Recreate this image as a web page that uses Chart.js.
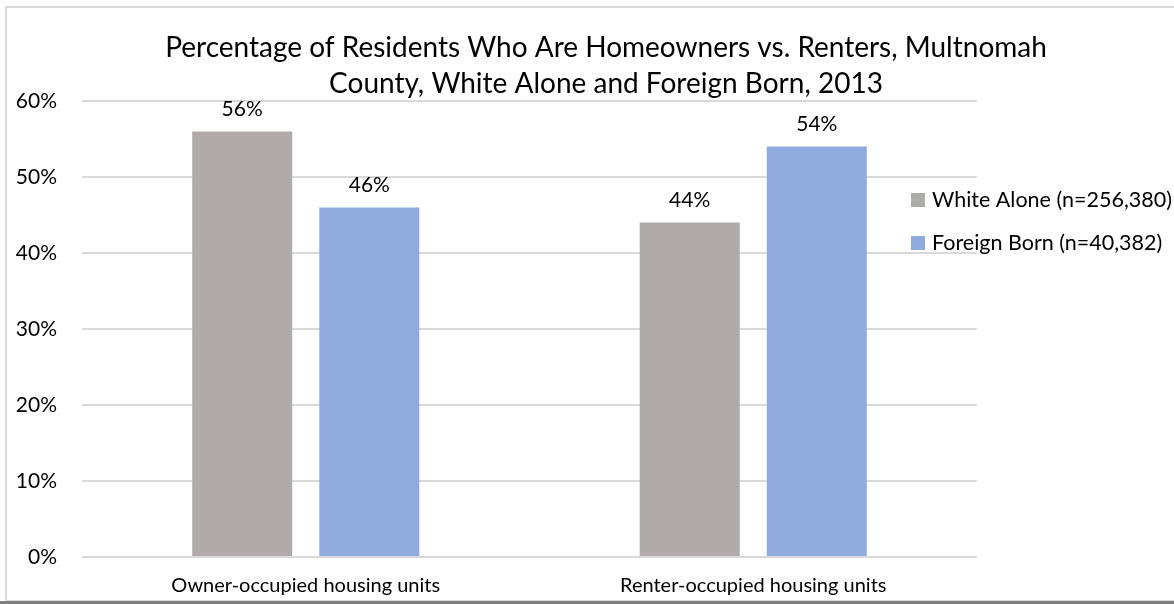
<!DOCTYPE html>
<html>
<head>
<meta charset="utf-8">
<script src="https://cdn.jsdelivr.net/npm/chart.js@4.4.0/dist/chart.umd.min.js"></script>
<style>
    html, body { margin: 0; padding: 0; background: #fff; }
    #wrap { position: relative; width: 1174px; height: 604px; overflow: hidden; }
    #frame { position: absolute; left: 5px; top: 6px; right: -10px; bottom: 3px;
             border-left: 2px solid #D9D9D9; border-top: 2px solid #D9D9D9; border-bottom: 1px solid #D9D9D9; }
    #shadow { position: absolute; left: 0; right: 0; bottom: 0; height: 3px; background: #7F7F7F; }
    canvas { position: absolute; left: 0; top: 0; }
</style>
</head>
<body>
<div id="wrap">
    <div id="frame"></div>
    <div id="shadow"></div>
    <canvas id="chart" width="1174" height="604"></canvas>
</div>
<script>
// ========== DATA ==========
const categories = ['Owner-occupied housing units', 'Renter-occupied housing units'];
const whiteAlone = [56, 44];
const foreignBorn = [46, 54];
const seriesNames = ['White Alone (n=256,380)', 'Foreign Born (n=40,382)'];
const titleLines = ['Percentage of Residents Who Are Homeowners vs. Renters, Multnomah',
                    'County, White Alone and Foreign Born, 2013'];
const yTicks = [0, 10, 20, 30, 40, 50, 60];

const FONT = 'Lato, "Open Sans", sans-serif';

// ========== PLUGINS ==========
const titlePlugin = {
    id: 'titleText',
    afterDraw(chart) {
        const ctx = chart.ctx;
        ctx.save();
        ctx.fillStyle = '#000';
        ctx.font = '28px ' + FONT;
        ctx.textAlign = 'center';
        ctx.textBaseline = 'middle';
        ctx.fillText(titleLines[0], 606, 48);
        ctx.fillText(titleLines[1], 606, 84);
        ctx.restore();
    }
};

const valueLabels = {
    id: 'valueLabels',
    afterDatasetsDraw(chart) {
        const ctx = chart.ctx;
        ctx.save();
        ctx.fillStyle = '#000';
        ctx.font = '21px ' + FONT;
        ctx.textAlign = 'center';
        ctx.textBaseline = 'middle';
        chart.data.datasets.forEach((ds, i) => {
            chart.getDatasetMeta(i).data.forEach((bar, j) => {
                ctx.fillText(ds.data[j] + '%', bar.x, bar.y - 22);
            });
        });
        ctx.restore();
    }
};

const sideLegend = {
    id: 'sideLegend',
    afterDraw(chart) {
        const ctx = chart.ctx;
        ctx.save();
        ctx.font = '21.5px ' + FONT;
        ctx.textBaseline = 'middle';
        chart.data.datasets.forEach((ds, i) => {
            const y = 200 + i * 43;
            ctx.fillStyle = ds.backgroundColor;
            ctx.fillRect(911, y - 7, 14, 14);
            ctx.fillStyle = '#000';
            ctx.fillText(ds.label, 932, y);
        });
        ctx.restore();
    }
};

// ========== CHART ==========
new Chart(document.getElementById('chart'), {
    type: 'bar',
    data: {
        labels: categories,
        datasets: [
            { label: seriesNames[0], data: whiteAlone, backgroundColor: '#AFABAA',
              categoryPercentage: 0.568, barPercentage: 0.787 },
            { label: seriesNames[1], data: foreignBorn, backgroundColor: '#8FAADC',
              categoryPercentage: 0.568, barPercentage: 0.787 }
        ]
    },
    options: {
        responsive: false,
        animation: false,
        layout: { padding: { left: 0, right: 197, top: 101, bottom: 0 } },
        plugins: { legend: { display: false }, title: { display: false }, tooltip: { enabled: false } },
        scales: {
            x: {
                grid: { display: false, drawTicks: false },
                border: { display: false },
                ticks: { color: '#000', font: { family: FONT, size: 20 }, padding: 17, maxRotation: 0 },
                afterFit: s => { s.height = 47; }
            },
            y: {
                min: 0, max: 60,
                afterBuildTicks: s => { s.ticks = yTicks.map(v => ({ value: v })); },
                grid: { color: '#D9D9D9', lineWidth: 2, drawTicks: false },
                border: { display: false },
                ticks: { color: '#000', font: { family: FONT, size: 21 }, padding: 25,
                         callback: v => v + '%' },
                afterFit: s => { s.width = 82; }
            }
        }
    },
    plugins: [titlePlugin, valueLabels, sideLegend]
});
</script>
</body>
</html>
